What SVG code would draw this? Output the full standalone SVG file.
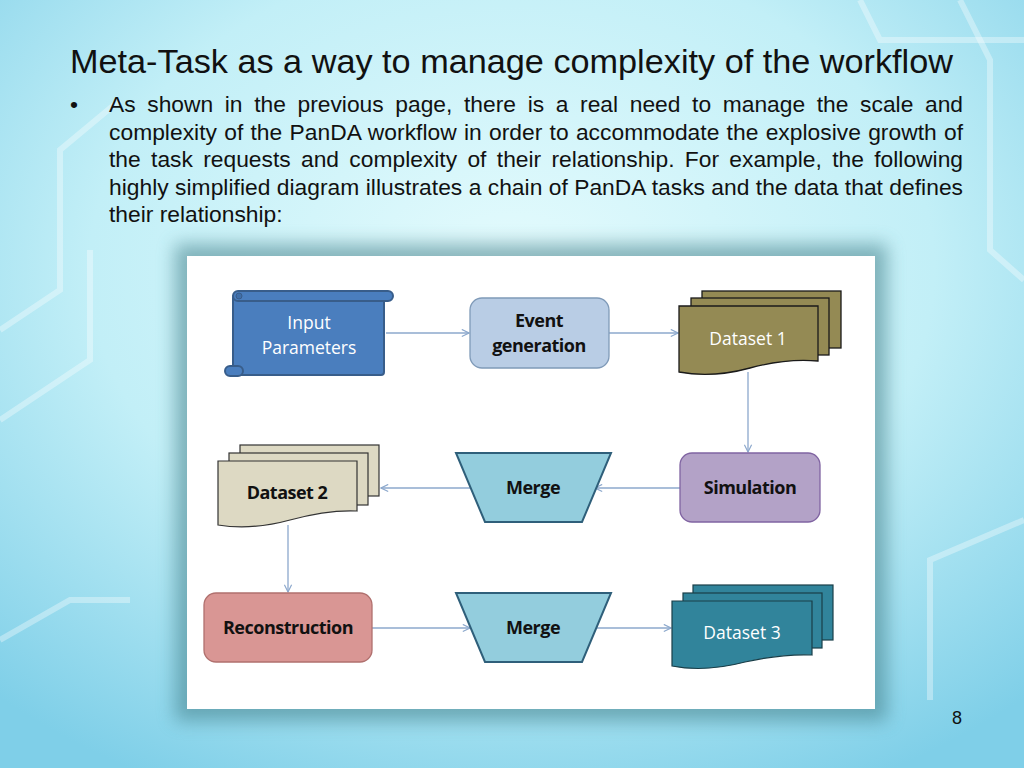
<svg xmlns="http://www.w3.org/2000/svg" width="1024" height="768" viewBox="0 0 1024 768">
<defs>
  <radialGradient id="bg" cx="0.5" cy="0.35" r="0.75">
    <stop offset="0" stop-color="#e4fbfd"/>
    <stop offset="0.55" stop-color="#c2eff7"/>
    <stop offset="1" stop-color="#7fcfe8"/>
  </radialGradient>
  <filter id="blur" x="-0.2" y="-0.2" width="1.4" height="1.4"><feGaussianBlur stdDeviation="9"/></filter>
  <marker id="arr" viewBox="0 0 10 10" refX="9" refY="5" markerWidth="9" markerHeight="9" markerUnits="userSpaceOnUse" orient="auto">
    <path d="M1,1 L9,5 L1,9" fill="none" stroke="#8ca8cc" stroke-width="1.3"/>
  </marker>
  <style>
    .title{font-family:"Liberation Sans",Arial,sans-serif;font-size:34px;fill:#111}
    .body{font-family:"Liberation Sans",Arial,sans-serif;font-size:22.8px;fill:#111}
    .lblw{font-family:"Open Sans","Liberation Sans",sans-serif;font-size:17.5px;fill:#fff;text-anchor:middle}
    .lblb{font-family:"Open Sans","Liberation Sans",sans-serif;font-size:18px;font-weight:bold;fill:#111;text-anchor:middle;letter-spacing:-0.5px}
    .conn{stroke:#8ca8cc;stroke-width:1.3;fill:none;marker-end:url(#arr)}
  </style>
</defs>
<rect width="1024" height="768" fill="url(#bg)"/>
<g fill="none" stroke="#ffffff" stroke-opacity="0.35" stroke-width="6">
  <path d="M0,330 L60,290 L60,150 L120,100"/>
  <path d="M0,420 L90,360 L90,250"/>
  <path d="M860,0 L880,40 L1024,40"/>
  <path d="M960,0 L990,60 L990,250 L1024,280"/>
  <path d="M0,640 L70,600 L130,600"/>
  <path d="M1024,520 L930,560 L930,700"/>
</g>
<text class="title" x="70" y="73" textLength="883" lengthAdjust="spacingAndGlyphs">Meta-Task as a way to manage complexity of the workflow</text>
<text class="body" x="70" y="112">•</text>
<text class="body" x="109" y="112" word-spacing="5.3" textLength="854" lengthAdjust="spacing">As shown in the previous page, there is a real need to manage the scale and</text>
<text class="body" x="109" y="139.5" word-spacing="0.9" textLength="854" lengthAdjust="spacing">complexity of the PanDA workflow in order to accommodate the explosive growth of</text>
<text class="body" x="109" y="167" word-spacing="4" textLength="854" lengthAdjust="spacing">the task requests and complexity of their relationship. For example, the following</text>
<text class="body" x="109" y="194.5" textLength="854" lengthAdjust="spacing">highly simplified diagram illustrates a chain of PanDA tasks and the data that defines</text>
<text class="body" x="109" y="222">their relationship:</text>
<rect x="175" y="244" width="712" height="477" fill="#3f7d86" opacity="0.55" filter="url(#blur)"/>
<rect x="187" y="256" width="688" height="453" fill="#ffffff"/>

<g id="connectors">
  <line class="conn" x1="386" y1="333" x2="469" y2="333"/>
  <line class="conn" x1="609" y1="333" x2="678" y2="333"/>
  <line class="conn" x1="748" y1="372" x2="748" y2="452"/>
  <line class="conn" x1="680" y1="488" x2="595" y2="488"/>
  <line class="conn" x1="470" y1="488" x2="381" y2="488"/>
  <line class="conn" x1="288" y1="525" x2="288" y2="592"/>
  <line class="conn" x1="372" y1="628" x2="470" y2="628"/>
  <line class="conn" x1="597" y1="628" x2="671" y2="628"/>
</g>

<g id="input-parameters">
  <rect x="233" y="295" width="151" height="80" rx="3" fill="#4a7ebe" stroke="#385d8a" stroke-width="2"/>
  <rect x="233" y="291" width="160" height="10" rx="5" fill="#4a7ebe" stroke="#385d8a" stroke-width="2"/>
  <circle cx="239" cy="296" r="3" fill="#3f6ea8" stroke="#385d8a" stroke-width="1"/>
  <rect x="225" y="366" width="18" height="10" rx="5" fill="#4a7ebe" stroke="#385d8a" stroke-width="2"/>
  <text class="lblw" x="309" y="329">Input</text>
  <text class="lblw" x="309" y="354">Parameters</text>
</g>

<g id="event-generation">
  <rect x="470" y="298" width="139" height="70" rx="12" fill="#b9cde5" stroke="#7f9ab8" stroke-width="1.3"/>
  <text class="lblb" x="539" y="327">Event</text>
  <text class="lblb" x="539" y="352">generation</text>
</g>

<g id="dataset-1" stroke="#1a1a1a" stroke-width="1.3" fill="#948a54">
  <rect x="702" y="291" width="139" height="57"/>
  <rect x="691" y="298" width="138" height="57"/>
  <path d="M679,306 H818 V361 C795,359 772,362 750,368 C728,374 705,377 679,372 Z"/>
  <text class="lblw" x="748" y="345" stroke="none">Dataset 1</text>
</g>

<g id="simulation">
  <rect x="680" y="453" width="140" height="69" rx="12" fill="#b3a2c7" stroke="#8064a2" stroke-width="1.3"/>
  <text class="lblb" x="750" y="494">Simulation</text>
</g>

<g id="merge-1">
  <path d="M456,453 H611 L582,522 H485 Z" fill="#93cddd" stroke="#2f5f7a" stroke-width="2"/>
  <text class="lblb" x="533" y="494">Merge</text>
</g>

<g id="dataset-2" stroke="#333" stroke-width="1.2" fill="#ddd9c3">
  <rect x="240" y="445" width="139" height="51"/>
  <rect x="229" y="453" width="139" height="52"/>
  <path d="M218,461 H357 V511 C335,510 312,514 290,520 C268,526 243,529 218,525 Z"/>
  <text class="lblb" x="287" y="499" stroke="none">Dataset 2</text>
</g>

<g id="reconstruction">
  <rect x="204" y="593" width="168" height="69" rx="12" fill="#d99694" stroke="#b0706e" stroke-width="1.3"/>
  <text class="lblb" x="288" y="634">Reconstruction</text>
</g>

<g id="merge-2">
  <path d="M456,593 H611 L582,662 H485 Z" fill="#93cddd" stroke="#2f5f7a" stroke-width="2"/>
  <text class="lblb" x="533" y="634">Merge</text>
</g>

<g id="dataset-3" stroke="#1a3e48" stroke-width="1.2" fill="#31849b">
  <rect x="693" y="585" width="140" height="55"/>
  <rect x="683" y="593" width="139" height="55"/>
  <path d="M672,601 H812 V655 C790,654 768,657 745,662 C722,668 697,671 672,666 Z"/>
  <text class="lblw" x="742" y="639" stroke="none">Dataset 3</text>
</g>

<text x="957" y="724" font-family="Liberation Sans, Arial, sans-serif" font-size="18" fill="#111" text-anchor="middle">8</text>
</svg>
